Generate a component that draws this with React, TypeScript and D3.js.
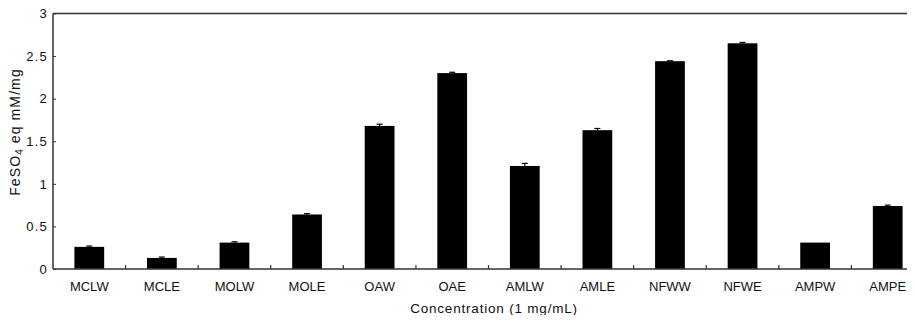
import React, { useRef, useEffect } from "react";
import * as d3 from "d3";

// sample names along the x axis
const categories = ["MCLW", "MCLE", "MOLW", "MOLE", "OAW", "OAE", "AMLW", "AMLE", "NFWW", "NFWE", "AMPW", "AMPE"];
// mean values
const values = [0.26, 0.13, 0.31, 0.64, 1.68, 2.3, 1.21, 1.63, 2.44, 2.65, 0.31, 0.74];
// error bar heights (upper half only is visible)
const errors = [0.01, 0.01, 0.01, 0.01, 0.02, 0.01, 0.03, 0.02, 0.005, 0.01, 0.0, 0.01];
const yTicks = [0, 0.5, 1, 1.5, 2, 2.5, 3];

function App() {
  const svgRef = useRef<SVGSVGElement>(null);

  useEffect(() => {
    const w = 915;
    const h = 323;
    const left = 53;
    const right = 924; // plot runs past the picture edge
    const top = 13.5;
    const bottom = 269;
    const font = "'Liberation Sans', Arial, sans-serif";

    const svg = d3.select(svgRef.current).attr("width", w).attr("height", h);
    svg.selectAll("*").remove();

    const x = d3.scaleBand().domain(categories).range([left, right]).paddingInner(0.59).paddingOuter(0.295);
    const y = d3.scaleLinear().domain([0, 3]).range([bottom, top]);

    // bars
    svg
      .append("g")
      .selectAll("rect")
      .data(categories)
      .enter()
      .append("rect")
      .attr("x", (d) => x(d)!)
      .attr("width", x.bandwidth())
      .attr("y", (d, i) => y(values[i]))
      .attr("height", (d, i) => bottom - y(values[i]))
      .attr("fill", "#000");

    // error bars
    const eb = svg.append("g").attr("stroke", "#000").attr("stroke-width", 1.2);
    categories.forEach((c, i) => {
      if (errors[i] <= 0) return;
      const cx = x(c)! + x.bandwidth() / 2;
      eb.append("line").attr("x1", cx).attr("x2", cx).attr("y1", y(values[i])).attr("y2", y(values[i] + errors[i]));
      eb.append("line").attr("x1", cx - 3).attr("x2", cx + 3).attr("y1", y(values[i] + errors[i])).attr("y2", y(values[i] + errors[i]));
    });

    // frame: left, bottom, top
    const frame = svg.append("g").attr("stroke", "#333").attr("stroke-width", 1.5).attr("fill", "none");
    frame.append("line").attr("x1", left).attr("x2", left).attr("y1", top).attr("y2", bottom);
    frame.append("line").attr("x1", left).attr("x2", w).attr("y1", bottom).attr("y2", bottom);
    frame.append("line").attr("x1", left).attr("x2", w).attr("y1", top).attr("y2", top);

    // y axis, ticks pointing inward
    const yAxis = d3.axisRight(y).tickValues(yTicks).tickSize(3).tickFormat((d) => String(d));
    const ya = svg.append("g").attr("transform", `translate(${left},0)`).call(yAxis);
    ya.select(".domain").remove();
    ya.selectAll("line").attr("stroke", "#333");
    ya.selectAll("text")
      .attr("x", -5)
      .attr("text-anchor", "end")
      .attr("font-family", font)
      .attr("font-size", 13)
      .attr("letter-spacing", 1.2)
      .attr("fill", "#111");

    // x ticks between bands, pointing upward
    const step = x.step();
    const bounds = categories.slice(1).map((c) => x(c)! - (step - x.bandwidth()) / 2);
    svg
      .append("g")
      .selectAll("line")
      .data(bounds)
      .enter()
      .append("line")
      .attr("x1", (d) => d)
      .attr("x2", (d) => d)
      .attr("y1", bottom)
      .attr("y2", bottom - 4)
      .attr("stroke", "#333")
      .attr("stroke-width", 1.2);

    // x labels
    svg
      .append("g")
      .selectAll("text")
      .data(categories)
      .enter()
      .append("text")
      .attr("x", (d) => x(d)! + x.bandwidth() / 2)
      .attr("y", 291)
      .attr("text-anchor", "middle")
      .attr("font-family", font)
      .attr("font-size", 13)
      .attr("fill", "#111")
      .text((d) => d);

    // axis titles
    svg
      .append("text")
      .attr("x", 494)
      .attr("y", 313)
      .attr("text-anchor", "middle")
      .attr("font-family", font)
      .attr("font-size", 13.5)
      .attr("letter-spacing", 0.8)
      .attr("fill", "#111")
      .text("Concentration (1 mg/mL)");

    const yt = svg
      .append("text")
      .attr("transform", `translate(20,132) rotate(-90)`)
      .attr("text-anchor", "middle")
      .attr("font-family", font)
      .attr("font-size", 14)
      .attr("letter-spacing", 1.1)
      .attr("fill", "#111");
    yt.append("tspan").text("FeSO");
    yt.append("tspan").attr("font-size", 10).attr("dy", 3).text("4");
    yt.append("tspan").attr("dy", -3).text(" eq mM/mg");
  }, []);

  return (
    <div style={{ margin: -8 }}>
      <svg ref={svgRef} style={{ display: "block" }}></svg>
    </div>
  );
}

export default App;
